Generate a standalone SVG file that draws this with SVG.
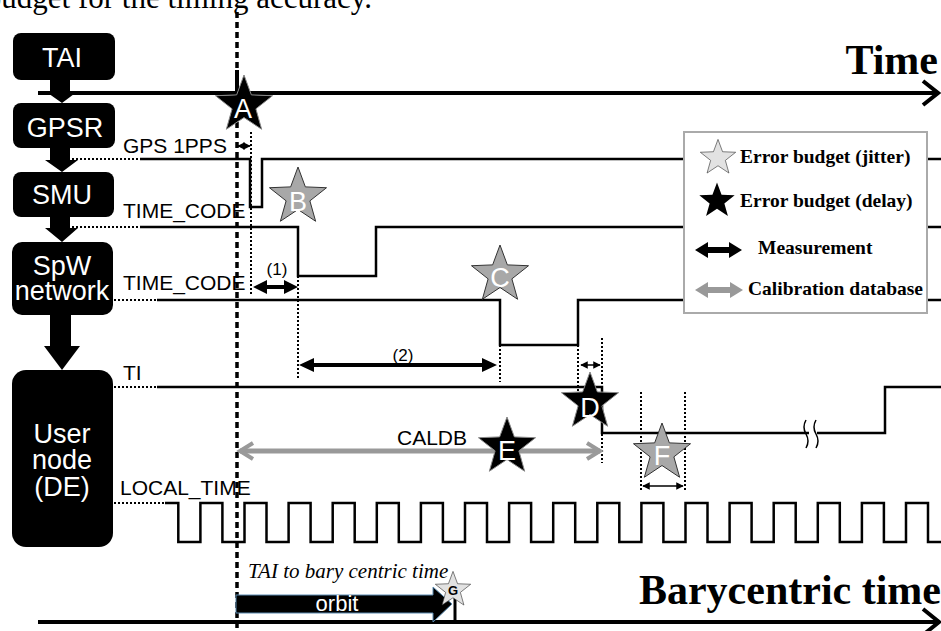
<svg xmlns="http://www.w3.org/2000/svg" xmlns:xlink="http://www.w3.org/1999/xlink" width="941" height="631" viewBox="0 0 941 631">
<style>
.box{fill:#000}
.bt{font-family:"Liberation Sans",Arial,sans-serif;font-size:27px;fill:#fff;text-anchor:middle}
.sig{font-family:"Liberation Sans",Arial,sans-serif;font-size:21px;fill:#000}
.lbl{font-family:"Liberation Sans",Arial,sans-serif;font-size:27px;fill:#fff;text-anchor:middle}
.leg{font-family:"Liberation Serif","Times New Roman",serif;font-size:19.5px;font-weight:bold;fill:#000}
.big{font-family:"Liberation Serif","Times New Roman",serif;font-size:42px;font-weight:bold;fill:#000;text-anchor:end}
.line{fill:none;stroke:#000;stroke-width:2.5}
.dot{fill:none;stroke:#000;stroke-width:2;stroke-dasharray:2 2}
.dash{fill:none;stroke:#000;stroke-width:3.5;stroke-dasharray:6 4}
.blk{fill:#000;stroke:#888;stroke-width:1}
.gry{fill:#a8a8a8;stroke:#333;stroke-width:1}
.lgt{fill:#e2e2e2;stroke:#333;stroke-width:1}
.thin{fill:none;stroke:#000;stroke-width:1.5}
</style>
<defs>
<path id="star" d="M0,-30 L7.35,-10.11 L28.53,-9.27 L11.89,3.86 L17.63,24.27 L0,12.5 L-17.63,24.27 L-11.89,3.86 L-28.53,-9.27 L-7.35,-10.11 Z"/>
<marker id="ta" viewBox="0 0 10 10" refX="9" refY="5" markerWidth="5" markerHeight="5" orient="auto-start-reverse"><path d="M0,0 L10,5 L0,10 Z" fill="#000"/></marker>
</defs>

<!-- top cut-off text -->
<text x="372" y="8" font-family="'Liberation Serif','Times New Roman',serif" font-size="31" text-anchor="end">budget for the timing accuracy.</text>

<!-- time axes -->
<g id="axes">
<line x1="38" y1="93" x2="936" y2="93" stroke="#000" stroke-width="4"/>
<path d="M923,81 L938,93 L923,105" fill="none" stroke="#000" stroke-width="4"/>
<text class="big" x="938" y="74">Time</text>
<line x1="38" y1="622" x2="937" y2="622" stroke="#000" stroke-width="4"/>
<path d="M923,609 L939,622 L923,635" fill="none" stroke="#000" stroke-width="4"/>
<text class="big" x="941" y="604">Barycentric time</text>
<line x1="237" y1="70" x2="237" y2="93" stroke="#000" stroke-width="4"/>
</g>

<!-- nodes -->
<g id="TAI"><rect class="box" x="13" y="33" width="102" height="47" rx="8"/><text class="bt" x="62" y="67" font-size="26">TAI</text></g>
<g id="GPSR"><rect class="box" x="13" y="103" width="102" height="45" rx="8"/><text class="bt" x="65" y="137">GPSR</text></g>
<g id="SMU"><rect class="box" x="13" y="172" width="101" height="45" rx="8"/><text class="bt" x="62" y="204">SMU</text></g>
<g id="SpW"><rect class="box" x="12" y="242" width="101" height="73" rx="10"/><text class="bt" x="62" y="275">SpW</text><text class="bt" x="62" y="300">network</text></g>
<g id="UserNode"><rect class="box" x="12" y="370" width="101" height="177" rx="14"/><text class="bt" x="62" y="443">User</text><text class="bt" x="62" y="469">node</text><text class="bt" x="62" y="496">(DE)</text></g>

<!-- connectors between nodes -->
<g id="connectors" fill="#000">
<path d="M50,80 H70 V91 H78 L62,103 L45,91 H50 Z"/>
<path d="M50,148 H70 V160 H78 L62,172 L45,160 H50 Z"/>
<path d="M50,217 H70 V228 H78 L62,242 L45,228 H50 Z"/>
<path d="M50,315 H71 V346 H80 L62,370 L44,346 H50 Z"/>
</g>

<!-- reference dashed line -->
<line class="dash" x1="237" y1="12" x2="237" y2="631"/>

<!-- signal lines -->
<g id="signals">
<line class="dot" x1="72" y1="159" x2="140" y2="159"/>
<path class="line" d="M140,159 H250 V207 H262 V159 H941"/>
<text class="sig" x="123" y="153">GPS 1PPS</text>

<line class="dot" x1="72" y1="227" x2="140" y2="227"/>
<path class="line" d="M140,227 H298 V276 H376 V227 H941"/>
<text class="sig" x="123" y="218">TIME_CODE</text>

<line class="dot" x1="114" y1="300" x2="157" y2="300"/>
<path class="line" d="M157,300 H500 V345 H578 V300 H941"/>
<text class="sig" x="123" y="290">TIME_CODE</text>

<line class="dot" x1="114" y1="387" x2="157" y2="387"/>
<path class="line" d="M157,387 H602 V433 H885 V387 H941"/>
<text class="sig" x="123" y="380">TI</text>
<rect x="809" y="426" width="8" height="14" fill="#fff"/>
<path class="thin" d="M806,420 q-4,7 0,14 t0,14 M816,420 q-4,7 0,14 t0,14"/>

<line class="dot" x1="114" y1="503" x2="165" y2="503"/>
<path class="line" d="M165,503 H178.3 V542 H200.4 V503 H222.4 V542 H244.5 V503 H266.5 V542 H288.6 V503 H310.6 V542 H332.7 V503 H354.7 V542 H376.8 V503 H398.8 V542 H420.9 V503 H442.9 V542 H465 V503 H487 V542 H509.1 V503 H531.1 V542 H553.2 V503 H575.2 V542 H597.3 V503 H619.3 V542 H641.4 V503 H663.4 V542 H685.5 V503 H707.5 V542 H729.6 V503 H751.6 V542 H773.7 V503 H795.7 V542 H817.8 V503 H839.8 V542 H861.9 V503 H883.9 V542 H906 V503 H928 V542 H941"/>
<text class="sig" x="120" y="495">LOCAL_TIME</text>
</g>

<!-- dotted guide lines -->
<g id="guides">
<line class="dot" x1="251" y1="132" x2="251" y2="296"/>
<line class="dot" x1="298" y1="228" x2="298" y2="378"/>
<line class="dot" x1="500" y1="345" x2="500" y2="382"/>
<line class="dot" x1="578" y1="345" x2="578" y2="392"/>
<line class="dot" x1="602" y1="338" x2="602" y2="463"/>
<line class="dot" x1="641" y1="392" x2="641" y2="492"/>
<line class="dot" x1="685" y1="392" x2="685" y2="492"/>
</g>

<!-- measurement arrows -->
<g id="measures">
<line class="thin" x1="238" y1="146" x2="250" y2="146" marker-start="url(#ta)" marker-end="url(#ta)"/>
<path d="M253,287 L267,280 V285 H284 V280 L298,287 L284,294 V289 H267 V294 Z" fill="#000"/>
<text x="277" y="275" font-family="'Liberation Sans',Arial,sans-serif" font-size="17" text-anchor="middle">(1)</text>
<path d="M299,365 L314,358 V363 H482 V358 L497,365 L482,372 V367 H314 V372 Z" fill="#000"/>
<text x="403" y="361" font-family="'Liberation Sans',Arial,sans-serif" font-size="17" text-anchor="middle">(2)</text>
<line class="thin" x1="581" y1="365" x2="600" y2="365" marker-start="url(#ta)" marker-end="url(#ta)"/>
<line class="thin" x1="643" y1="486" x2="683" y2="486" marker-start="url(#ta)" marker-end="url(#ta)"/>
<line x1="240" y1="451" x2="600" y2="451" stroke="#999" stroke-width="5"/>
<path d="M253,443 L240,451 L253,459 M587,443 L600,451 L587,459" fill="none" stroke="#999" stroke-width="4"/>
<text class="sig" x="397" y="445">CALDB</text>
</g>

<!-- orbit arrow -->
<g id="orbit">
<path d="M236,595 H433 V587 L452,604 L433,622 V613 H236 Z" fill="#000" stroke="#5a8ab0" stroke-width="1"/>
<text x="337" y="611" font-family="'Liberation Sans',Arial,sans-serif" font-size="22" fill="#fff" text-anchor="middle">orbit</text>
<text x="248" y="578" font-family="'Liberation Serif','Times New Roman',serif" font-size="21" font-style="italic">TAI to bary centric time</text>
<line x1="455" y1="598" x2="455" y2="622" stroke="#000" stroke-width="3"/>
</g>

<!-- error stars -->
<g id="starA"><use xlink:href="#star" href="#star" class="blk" transform="translate(244,105)"/><text class="lbl" x="243" y="118">A</text></g>
<g id="starB"><use xlink:href="#star" href="#star" class="gry" transform="translate(298,197)"/><text class="lbl" x="298" y="211">B</text></g>
<g id="starC"><use xlink:href="#star" href="#star" class="gry" transform="translate(500,275)"/><text class="lbl" x="500" y="287">C</text></g>
<g id="starD"><use xlink:href="#star" href="#star" class="blk" transform="translate(590,402)"/><text class="lbl" x="590" y="417">D</text></g>
<g id="starE"><use xlink:href="#star" href="#star" class="blk" transform="translate(507,447)"/><text class="lbl" x="507" y="460">E</text></g>
<g id="starF"><use xlink:href="#star" href="#star" class="gry" transform="translate(662,453)"/><text class="lbl" x="662" y="465">F</text></g>
<g id="starG"><use xlink:href="#star" href="#star" class="lgt" transform="translate(453,590) scale(0.62)"/><text x="453" y="595" font-family="'Liberation Sans',Arial,sans-serif" font-size="13" font-weight="bold" text-anchor="middle">G</text></g>

<!-- legend -->
<g id="legend">
<rect x="684" y="132" width="243" height="181" fill="#fff" stroke="#aaa" stroke-width="2"/>
<use xlink:href="#star" href="#star" class="lgt" transform="translate(718,158) scale(0.62)"/>
<text class="leg" x="740" y="163">Error budget (jitter)</text>
<use xlink:href="#star" href="#star" fill="#000" transform="translate(717,201) scale(0.62)"/>
<text class="leg" x="740" y="207">Error budget (delay)</text>
<path d="M695,250 L708,242 V247 H729 V242 L742,250 L729,258 V253 H708 V258 Z" fill="#000"/>
<text class="leg" x="758" y="254">Measurement</text>
<path d="M695,290 L708,282 V287 H730 V282 L743,290 L730,298 V293 H708 V298 Z" fill="#999"/>
<text class="leg" x="748" y="295">Calibration database</text>
</g>
</svg>
